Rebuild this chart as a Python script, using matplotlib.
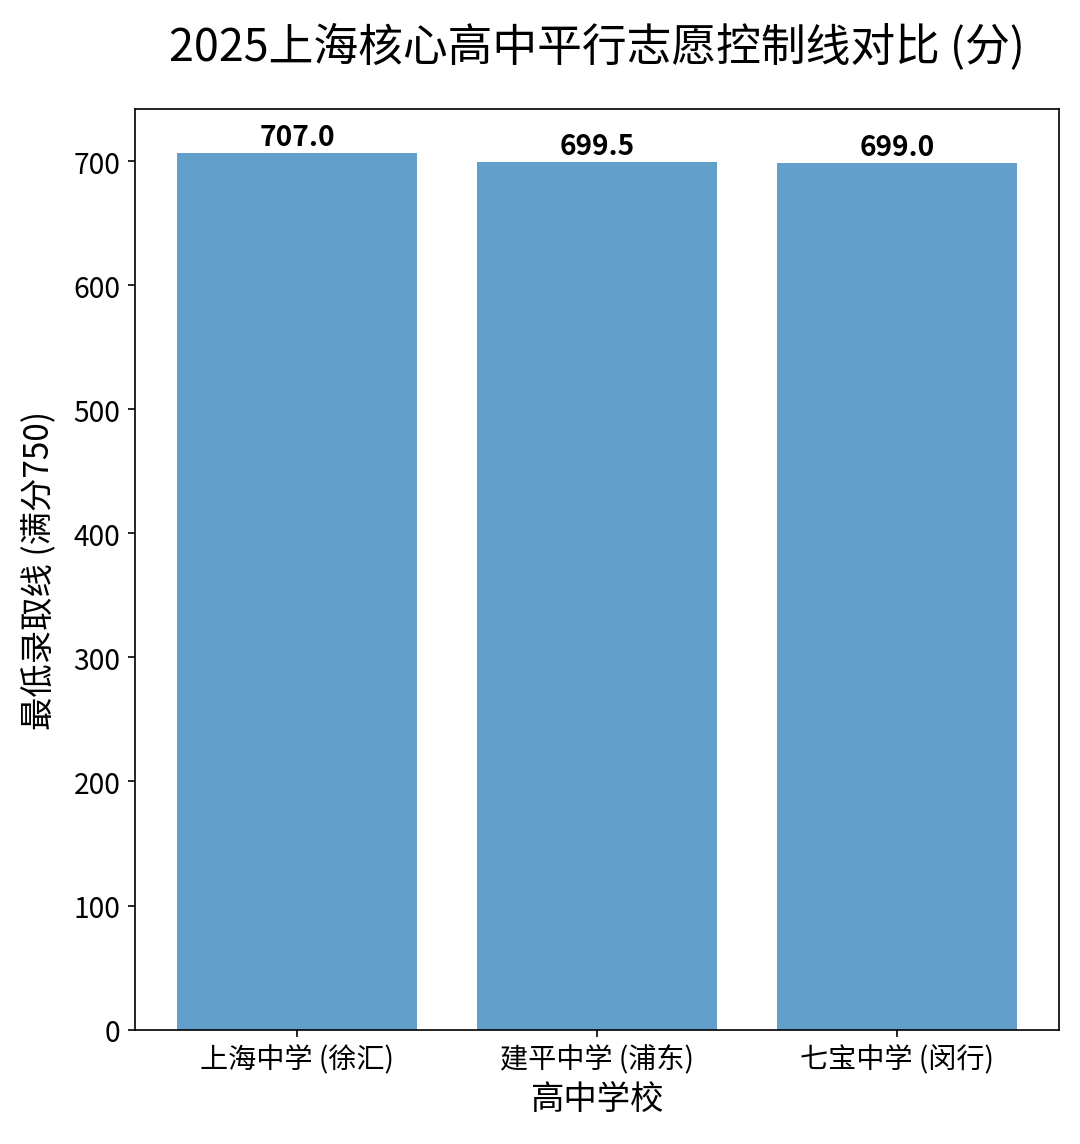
import matplotlib
matplotlib.use("Agg")
import matplotlib.pyplot as plt

plt.rcParams['font.family'] = ['Noto Sans CJK SC', 'DejaVu Sans']
plt.rcParams['axes.unicode_minus'] = False

# school names and their 2025 cut-off scores
schools = ["上海中学 (徐汇)", "建平中学 (浦东)", "七宝中学 (闵行)"]
scores = [707.0, 699.5, 699.0]

fig, ax = plt.subplots(figsize=(7.2, 7.633), dpi=150)
fig.subplots_adjust(left=0.125, right=0.981, top=0.904, bottom=0.100)

bars = ax.bar(schools, scores, color='#1f77b4', alpha=0.7, width=0.8)

for b, v in zip(bars, scores):
    ax.text(b.get_x() + b.get_width() / 2, b.get_height() + 1.5, "%.1f" % v,
            ha='center', va='bottom', fontsize=13.5, fontweight='bold')

ax.set_ylim(0, max(scores) * 1.05)
ax.set_title("2025上海核心高中平行志愿控制线对比 (分)", fontsize=21.5, pad=24)
ax.set_xlabel("高中学校", fontsize=16, labelpad=4)
ax.set_ylabel("最低录取线 (满分750)", fontsize=16, labelpad=8)
ax.tick_params(axis='x', labelsize=13.5)
ax.tick_params(axis='y', labelsize=13.5)

fig.savefig("out.png", dpi=150)
